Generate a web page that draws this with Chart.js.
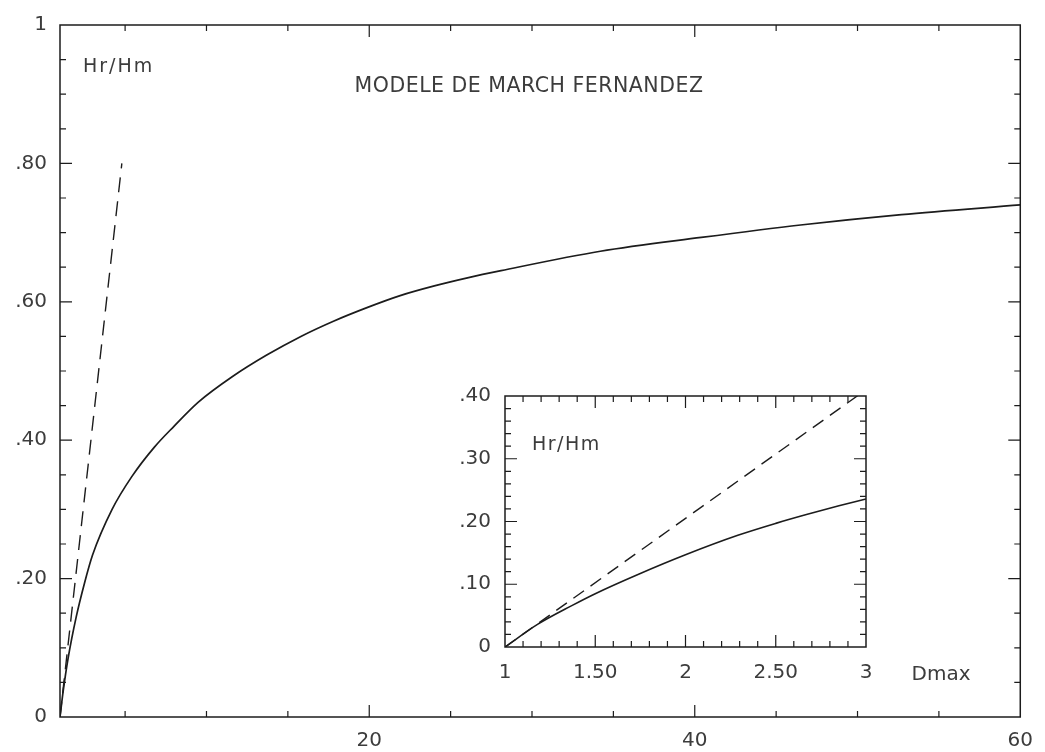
<!DOCTYPE html>
<html>
<head>
<meta charset="utf-8">
<script src="https://cdn.jsdelivr.net/npm/chart.js@4.4.1/dist/chart.umd.min.js"></script>
<style>
  body { margin: 0; background: #fff; }
  #wrap { position: relative; width: 1045px; height: 752px; }
  #mainChart { position: absolute; left: 0; top: 0; }
  #insetChart { position: absolute; left: 440px; top: 370px; }
</style>
</head>
<body>
<div id="wrap">
  <canvas id="mainChart" width="1045" height="752"></canvas>
  <canvas id="insetChart" width="560" height="310"></canvas>
</div>
<script>
// values
const mainD  = [1, 1.2, 1.5, 2, 2.5, 3, 4.2, 5.4, 6.8, 8, 9.5, 11.6, 13.7, 15.8, 17.8, 19.9, 21.9, 24, 26.1, 28.1, 34.2, 40.4, 46.5, 52.7, 60];
const mainHr = [0, 0.038, 0.085, 0.145, 0.193, 0.234, 0.3, 0.347, 0.39, 0.42, 0.455, 0.492, 0.523, 0.55, 0.572, 0.592, 0.609, 0.623, 0.635, 0.645, 0.673, 0.693, 0.711, 0.726, 0.74];
const mainDashD  = [1, 4.8];
const mainDashHr = [0, 0.8];

const insetD  = [1, 1.18, 1.37, 1.5, 1.74, 2, 2.29, 2.5, 2.67, 2.85, 3];
const insetHr = [0, 0.036, 0.066, 0.085, 0.116, 0.147, 0.178, 0.197, 0.211, 0.225, 0.236];
const insetDashD  = [1, 3];
const insetDashHr = [0, 0.41];

const mainXTicks  = [20, 40, 60];
const mainXLabels = ['20', '40', '60'];
const mainYTicks  = [0, 0.2, 0.4, 0.6, 0.8, 1];
const mainYLabels = ['0', '.20', '.40', '.60', '.80', '1'];
const insetXTicks  = [1, 1.5, 2, 2.5, 3];
const insetXLabels = ['1', '1.50', '2', '2.50', '3'];
const insetYTicks  = [0, 0.1, 0.2, 0.3, 0.4];
const insetYLabels = ['0', '.10', '.20', '.30', '.40'];

const INK = '#1c1c1c';
const TEXT = '#3c3c3c';
const FAMILY = "'DejaVu Sans', sans-serif";

Chart.defaults.font.family = FAMILY;
Chart.defaults.color = TEXT;

function pts(xs, ys) {
    return xs.map((x, i) => ({x: x, y: ys[i]}));
}

// inner tick marks every `step`, longer ones every `major`
function marks(min, max, step, major) {
    const out = [];
    for (let k = Math.ceil(min / step - 1e-9); k * step <= max + 1e-9; k++) {
        const v = k * step;
        if (v <= min + 1e-9 || v >= max - 1e-9) continue;
        const r = v / major;
        out.push({v: v, major: Math.abs(r - Math.round(r)) < 1e-6});
    }
    return out;
}

// box around the plot, ticks pointing inwards on all four sides, free text
const frameTicks = {
    id: 'frameTicks',
    afterDatasetsDraw(chart, args, o) {
        const ctx = chart.ctx, a = chart.chartArea;
        const xs = chart.scales.x, ys = chart.scales.y;
        ctx.save();
        ctx.strokeStyle = INK;
        ctx.lineWidth = 1.5;
        ctx.setLineDash([]);
        ctx.strokeRect(a.left, a.top, a.right - a.left, a.bottom - a.top);
        ctx.lineWidth = 1.2;
        ctx.beginPath();
        marks(xs.min, xs.max, o.xMinor, o.xMajor).forEach(m => {
            const p = xs.getPixelForValue(m.v);
            const len = m.major ? o.majorLen : o.minorLen;
            ctx.moveTo(p, a.bottom); ctx.lineTo(p, a.bottom - len);
            ctx.moveTo(p, a.top); ctx.lineTo(p, a.top + len);
        });
        marks(ys.min, ys.max, o.yMinor, o.yMajor).forEach(m => {
            const p = ys.getPixelForValue(m.v);
            const len = m.major ? o.majorLen : o.minorLen;
            ctx.moveTo(a.left, p); ctx.lineTo(a.left + len, p);
            ctx.moveTo(a.right, p); ctx.lineTo(a.right - len, p);
        });
        ctx.stroke();

        (o.texts || []).forEach(t => {
            ctx.font = t.font;
            ctx.fillStyle = TEXT;
            ctx.letterSpacing = t.spacing || '0px';
            ctx.textAlign = t.align || 'left';
            ctx.textBaseline = 'middle';
            ctx.fillText(t.text, a.left + t.dx, a.top + t.dy);
        });
        ctx.restore();
    }
};

function axis(min, max, ticks, labels, pad, size, fitProp, fitSize) {
    return {
        type: 'linear',
        min: min,
        max: max,
        grid: {display: false, drawTicks: false},
        border: {display: false},
        afterBuildTicks: s => { s.ticks = ticks.map(v => ({value: v})); },
        afterFit: s => { s[fitProp] = fitSize; },
        ticks: {
            autoSkip: false,
            maxRotation: 0,
            padding: pad,
            color: TEXT,
            font: {size: size, family: FAMILY},
            callback: (v, i) => labels[i]
        }
    };
}

function curve(data, dash, width) {
    return {
        data: data,
        borderColor: INK,
        borderWidth: width,
        borderDash: dash,
        pointRadius: 0,
        fill: false,
        cubicInterpolationMode: 'monotone'
    };
}

new Chart(document.getElementById('mainChart'), {
    type: 'line',
    data: {
        datasets: [
            curve(pts(mainD, mainHr), [], 1.7),
            curve(pts(mainDashD, mainDashHr), [15, 9], 1.4)
        ]
    },
    options: {
        responsive: false,
        animation: false,
        layout: {padding: {top: 22, right: 20, left: 0, bottom: 0}},
        plugins: {
            legend: {display: false},
            tooltip: {enabled: false},
            frameTicks: {
                xMinor: 5, xMajor: 20, yMinor: 0.05, yMajor: 0.2,
                majorLen: 12, minorLen: 6,
                texts: [
                    {text: 'Hr/Hm', dx: 23, dy: 42, font: "19px " + FAMILY, spacing: '2px'},
                    {text: 'MODELE DE MARCH FERNANDEZ', dx: 469, dy: 62, font: "20.5px " + FAMILY, align: 'center', spacing: '0.5px'}
                ]
            }
        },
        scales: {
            x: axis(1, 60, mainXTicks, mainXLabels, 12, 20, 'height', 35),
            y: axis(0, 1, mainYTicks, mainYLabels, 13, 20, 'width', 60)
        }
    },
    plugins: [frameTicks]
});

new Chart(document.getElementById('insetChart'), {
    type: 'line',
    data: {
        datasets: [
            curve(pts(insetD, insetHr), [], 1.6),
            curve(pts(insetDashD, insetDashHr), [13, 8], 1.4)
        ]
    },
    options: {
        responsive: false,
        animation: false,
        layout: {padding: {top: 19, right: 134, left: 0, bottom: 0}},
        plugins: {
            legend: {display: false},
            tooltip: {enabled: false},
            frameTicks: {
                xMinor: 0.1, xMajor: 0.5, yMinor: 0.02, yMajor: 0.1,
                majorLen: 12, minorLen: 6,
                texts: [
                    {text: 'Hr/Hm', dx: 27, dy: 49, font: "19px " + FAMILY, spacing: '1.5px'},
                    {text: 'Dmax', dx: 436, dy: 279, font: "20px " + FAMILY, align: 'center'}
                ]
            }
        },
        scales: {
            x: axis(1, 3, insetXTicks, insetXLabels, 14, 20, 'height', 33),
            y: axis(0, 0.4, insetYTicks, insetYLabels, 14, 20, 'width', 65)
        }
    },
    plugins: [frameTicks]
});
</script>
</body>
</html>
